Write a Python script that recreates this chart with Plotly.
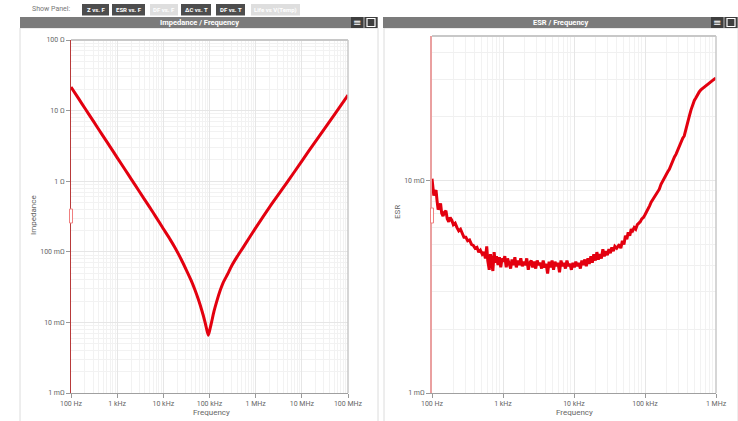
import plotly.graph_objects as go

W, H = 738, 421

# ---------------- data ----------------
imp_freq_hz = [100, 150, 200, 300, 500, 700, 1000, 1500, 2000, 3000, 5000, 7000,
               10000, 14000, 17800, 24000, 31900, 40000, 48300, 58000, 67500, 78000,
               86500, 93800, 100000, 111000, 125000, 142000, 170000, 198000, 250000,
               301000, 400000, 520000, 700000, 1000000, 2000000, 5000000, 10000000,
               20000000, 50000000, 100000000]
imp_ohm = [21.6, 14.4, 10.8, 7.2, 4.32, 3.09, 2.16, 1.44, 1.08, 0.72, 0.432, 0.308,
           0.212, 0.150, 0.115, 0.0798, 0.0543, 0.0394, 0.0290, 0.0207, 0.0151, 0.0108,
           0.0081, 0.0066, 0.00755, 0.0101, 0.0143, 0.0194, 0.0283, 0.0367, 0.049,
           0.063, 0.086, 0.112, 0.152, 0.218, 0.43, 1.0, 1.93, 3.7, 8.6, 16.6]

esr_freq_hz = [100, 103, 106, 110, 114, 118, 122, 127, 132, 137, 143, 150, 157, 164,
               172, 180, 190, 200, 212, 225, 238, 252, 266, 282, 300, 318, 338, 360,
               382, 405, 430, 455, 480, 510, 540, 565, 590, 610, 640, 665, 690, 720,
               750, 780, 810, 850, 890, 930, 970, 1010, 1060, 1110, 1160, 1220, 1280,
               1340, 1400, 1470, 1540, 1620, 1700, 1780, 1870, 1960, 2060, 2160, 2270,
               2380, 2500, 2620, 2750, 2890, 3030, 3180, 3340, 3500, 3680, 3860, 4050,
               4250, 4460, 4680, 4910, 5150, 5400, 5670, 5950, 6250, 6560, 6880, 7220,
               7580, 7950, 8350, 8760, 9190, 9650, 10100, 10600, 11200, 11700, 12300,
               12900, 13600, 14200, 14900, 15700, 16400, 17300, 18100, 19000, 20000,
               21000, 22000, 23100, 24300, 25500, 26700, 28100, 29500, 31000, 32500,
               34100, 35800, 37600, 40000, 43500, 45700, 48000, 50500, 53000, 55500,
               58000, 61000, 64000, 67000, 70500, 74000, 78000, 82000, 86000, 90000,
               95000, 100000, 105000, 110000, 116000, 122000, 128000, 135000, 142000,
               150000, 159000, 168000, 178000, 188000, 198000, 209000, 220000, 233000,
               246000, 260000, 274000, 290000, 306000, 322000, 340000, 357000, 376000,
               398000, 421000, 445000, 470000, 495000, 522000, 550000, 580000, 612000,
               646000, 684000, 720000, 760000, 801000, 845000, 890000, 935000, 975000,
               1000000]
esr_mohm = [10.2, 9.3, 8.5, 8.8, 9.0, 8.0, 7.3, 7.5, 7.8, 7.0, 6.8, 7.1, 7.2, 6.6,
            6.4, 6.7, 6.5, 6.2, 6.3, 6.0, 5.8, 5.9, 5.6, 5.4, 5.4, 5.2, 5.25, 5.0,
            4.95, 4.8, 4.85, 4.6, 4.7, 4.5, 4.6, 4.3, 4.9, 4.2, 3.8, 4.5, 4.2, 3.75,
            4.6, 4.1, 4.4, 4.0, 4.35, 3.9, 4.3, 4.15, 4.4, 3.9, 4.3, 4.1, 3.85,
            4.25, 4.0, 4.35, 3.9, 4.2, 4.0, 4.3, 3.95, 4.15, 4.0, 4.3, 3.8,
            4.1, 4.2, 3.9, 4.15, 3.85, 4.2, 4.0, 4.1, 3.85, 4.2, 3.9, 4.05,
            3.65, 4.15, 3.9, 4.2, 3.8, 4.15, 3.95, 4.1, 3.7, 4.2, 3.95, 4.1,
            3.85, 4.2, 3.95, 4.05, 3.8, 4.1, 3.9, 4.15, 3.95, 4.1, 3.85,
            4.2, 4.0, 4.25, 3.95, 4.3, 4.05, 4.4, 4.1, 4.5, 4.2,
            4.6, 4.25, 4.5, 4.3, 4.75, 4.4, 4.65, 4.45, 4.75, 4.55,
            4.85, 4.65, 4.9, 4.8, 5.0, 4.8, 5.2, 5.0, 5.5, 5.3,
            5.7, 5.5, 5.9, 5.8, 6.0, 5.9, 6.2, 6.3, 6.4, 6.6,
            6.7, 6.9, 7.1, 7.3, 7.6, 7.9, 8.1, 8.4, 8.6,
            8.8, 9.1, 9.6, 10.0, 10.3, 10.7, 11.0, 11.3, 11.9,
            12.4, 12.9, 13.3, 14.0, 14.7, 15.3, 15.8, 16.2, 17.5,
            18.9, 20.1, 21.5, 22.8, 23.8, 24.5, 25.4, 26.1, 26.7,
            27.1, 27.7, 28.0, 28.4, 28.7, 29.2, 29.6, 29.9, 30.2,
            30.4]

freq_tickvals = [1e2, 1e3, 1e4, 1e5, 1e6, 1e7, 1e8]
freq_ticktext = ["100 Hz", "1 kHz", "10 kHz", "100 kHz", "1 MHz", "10 MHz", "100 MHz"]
imp_tickvals = [1e-3, 1e-2, 1e-1, 1, 10, 100]
imp_ticktext = ["1 mΩ", "10 mΩ", "100 mΩ", "1 Ω", "10 Ω", "100 Ω"]
esr_tickvals = [1e-3, 1e-2]
esr_ticktext = ["1 mΩ", "10 mΩ"]

buttons = ["Z vs. F", "ESR vs. F", "DF vs. F", "ΔC vs. T", "DF vs. T", "Life vs V(Temp)"]
buttons_active = [True, True, False, True, True, False]

# ---------------- helpers ----------------
def PX(x):
    return x / W

def PY(y):
    return 1 - y / H

def minor_vals(lo, hi):
    out = []
    for e in range(lo, hi):
        for k in range(2, 10):
            out.append(k * 10.0 ** e)
    return out

def label(x, y, text, size, color, family=None, angle=0):
    return dict(xref="paper", yref="paper", x=PX(x), y=PY(y), text=text,
                showarrow=False, xanchor="center", yanchor="middle",
                textangle=angle,
                font=dict(size=size, color=color, family=family or FONT))

RED = "#e3000f"
FONT = "Roboto"

fig = go.Figure()
fig.add_trace(go.Scatter(x=imp_freq_hz, y=imp_ohm, mode="lines",
                         line=dict(color=RED, width=3, shape="spline", smoothing=0.6),
                         xaxis="x", yaxis="y", hoverinfo="skip"))
fig.add_trace(go.Scatter(x=esr_freq_hz, y=[v / 1000 for v in esr_mohm], mode="lines",
                         line=dict(color=RED, width=3), xaxis="x2", yaxis="y2",
                         hoverinfo="skip"))

common_x = dict(type="log", showgrid=True, gridcolor="#e6e6e6", gridwidth=1,
                ticks="outside", ticklen=4, tickcolor="#999", showline=True,
                linecolor="#a0a0a0", linewidth=1, zeroline=False, automargin=False,
                tickfont=dict(size=7, color="#666", family=FONT), fixedrange=True)
common_y = dict(type="log", showgrid=True, gridcolor="#e6e6e6", gridwidth=1,
                ticks="outside", ticklen=4, tickcolor="#999", showline=True,
                linewidth=1, zeroline=False, automargin=False,
                tickfont=dict(size=7, color="#666", family=FONT), fixedrange=True)

x1_dom = [PX(71), PX(348)]
y1_dom = [PY(393), PY(40)]
x2_dom = [PX(432), PX(716)]
y2_dom = [PY(393), PY(36)]

fig.update_layout(
    template="none",
    width=W, height=H, margin=dict(l=0, r=0, t=0, b=0, pad=0), autosize=False,
    paper_bgcolor="white", plot_bgcolor="white", showlegend=False,
    font=dict(family=FONT, color="#666"),
    xaxis=dict(common_x, domain=x1_dom, range=[2, 8], anchor="y",
               tickvals=freq_tickvals, ticktext=freq_ticktext,
               minor=dict(tickvals=minor_vals(2, 8), showgrid=True,
                          gridcolor="#f2f2f2", ticks="")),
    yaxis=dict(common_y, domain=y1_dom, range=[-3, 2], anchor="x",
               linecolor="#b83a3a",
               tickvals=imp_tickvals, ticktext=imp_ticktext,
               minor=dict(tickvals=minor_vals(-3, 2), showgrid=True,
                          gridcolor="#f2f2f2", ticks="")),
    xaxis2=dict(common_x, domain=x2_dom, range=[2, 6], anchor="y2",
                tickvals=freq_tickvals[:5], ticktext=freq_ticktext[:5],
                minor=dict(tickvals=minor_vals(2, 6), showgrid=True,
                           gridcolor="#f2f2f2", ticks="")),
    yaxis2=dict(common_y, domain=y2_dom, range=[-3, -1.32], anchor="x2",
                linecolor="#eaa0a0", linewidth=2,
                tickvals=esr_tickvals, ticktext=esr_ticktext,
                minor=dict(tickvals=minor_vals(-3, -1), showgrid=True,
                           gridcolor="#f0f0f0", ticks="")),
)

shapes = []
annotations = []

# panel frames
for (x0, x1) in [(20, 378), (384, 738)]:
    shapes.append(dict(type="rect", xref="paper", yref="paper",
                       x0=PX(x0), x1=PX(x1), y0=PY(425), y1=PY(28),
                       line=dict(color="#dcdcdc", width=1), fillcolor="rgba(0,0,0,0)"))

# headers
headers = [(20, 378, "Impedance / Frequency"), (383, 738, "ESR / Frequency")]
for (x0, x1, t) in headers:
    shapes.append(dict(type="rect", xref="paper", yref="paper",
                       x0=PX(x0), x1=PX(x1), y0=PY(28), y1=PY(17),
                       line=dict(width=0), fillcolor="#7b7b7b"))
    annotations.append(label((x0 + x1) / 2, 22.5, "<b>" + t + "</b>", 7.5, "white"))
    # icons
    for bx in (x1 - 27, x1 - 13):
        shapes.append(dict(type="rect", xref="paper", yref="paper",
                           x0=PX(bx), x1=PX(bx + 12), y0=PY(28), y1=PY(17),
                           line=dict(width=0), fillcolor="#3e3e3e"))
    annotations.append(label(x1 - 21, 22.5, "≡", 10, "white", "DejaVu Sans"))
    shapes.append(dict(type="rect", xref="paper", yref="paper",
                       x0=PX(x1 - 11), x1=PX(x1 - 3), y0=PY(26.5), y1=PY(18.5),
                       line=dict(color="white", width=1.2), fillcolor="rgba(0,0,0,0)"))

# plot area top/right borders
for (xa, xb, ya, yb) in [(71, 348, 40, 393), (432, 716, 36, 393)]:
    shapes.append(dict(type="line", xref="paper", yref="paper",
                       x0=PX(xa), x1=PX(xb), y0=PY(ya), y1=PY(ya),
                       line=dict(color="#c8c8c8", width=2)))
    shapes.append(dict(type="line", xref="paper", yref="paper",
                       x0=PX(xb), x1=PX(xb), y0=PY(ya), y1=PY(yb),
                       line=dict(color="#c8c8c8", width=1.5)))

# small handles on y axes
for (hx, hy0, hy1) in [(71, 209, 223), (432, 208, 223)]:
    shapes.append(dict(type="rect", xref="paper", yref="paper",
                       x0=PX(hx - 1.5), x1=PX(hx + 1.5), y0=PY(hy1), y1=PY(hy0),
                       line=dict(color="#f08080", width=1), fillcolor="white"))

# axis titles
annotations += [
    label(33, 215, "Impedance", 8, "#666", angle=-90),
    label(211, 412, "Frequency", 8, "#666"),
    label(397, 212, "ESR", 8, "#666", angle=-90),
    label(574, 412, "Frequency", 8, "#666"),
]

# "Show Panel:" + buttons
annotations.append(label(51, 9.5, "Show Panel:", 7, "#777"))
btn_pos = [(82, 109), (112, 145), (150, 178), (181, 211), (216, 245), (251, 300)]
for (bx0, bx1), text, active in zip(btn_pos, buttons, buttons_active):
    shapes.append(dict(type="rect", xref="paper", yref="paper",
                       x0=PX(bx0), x1=PX(bx1), y0=PY(15.5), y1=PY(4),
                       line=dict(width=0),
                       fillcolor="#4d4d4d" if active else "#dedede"))
    annotations.append(label((bx0 + bx1) / 2, 9.8, "<b>" + text + "</b>", 6, "white"))

fig.update_layout(shapes=shapes, annotations=annotations)
fig.write_html("out.html", config={"displayModeBar": False},
               post_script="document.body.style.margin='0px';document.body.style.overflow='hidden';")
